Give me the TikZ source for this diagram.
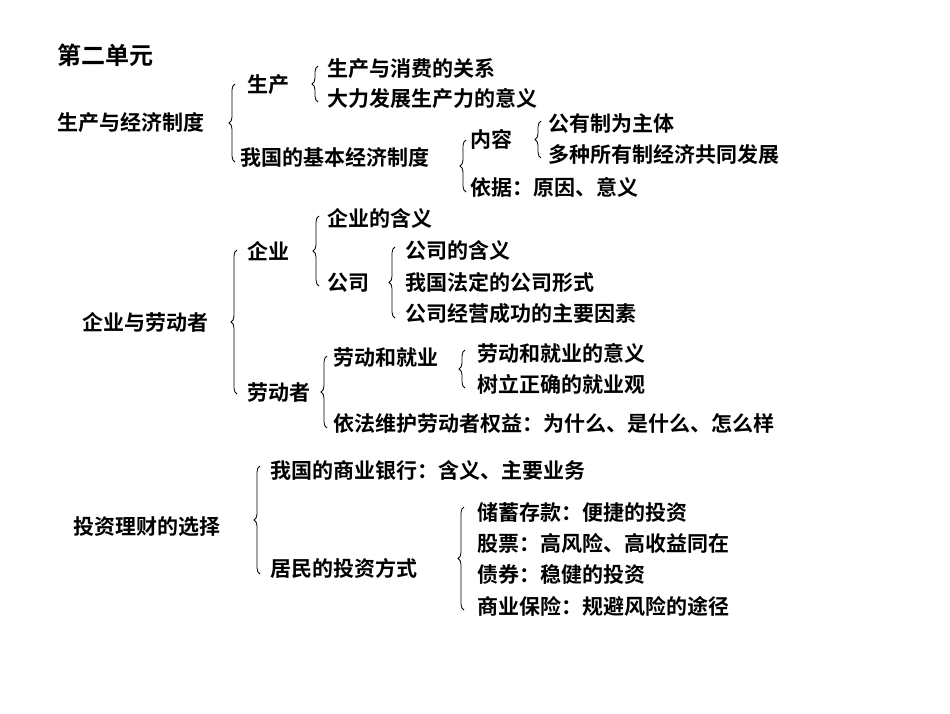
\documentclass[tikz,border=0pt]{standalone}
\usepackage{fontspec}
\setmainfont{Noto Sans CJK SC Bold}
\usetikzlibrary{decorations.pathreplacing}
\begin{document}
\begin{tikzpicture}[x=1pt,y=-1pt,
 t/.style={anchor=west,inner sep=0pt,font=\fontsize{21}{21}\selectfont},
 br/.style={decorate,decoration={brace,amplitude=6pt},line width=0.8pt}]
\useasboundingbox (0,0) rectangle (950,713);
\node[t,font=\fontsize{24}{24}\selectfont] (title) at (57,55) {第二单元};
\node[t] (a) at (57,123) {生产与经济制度};
\node[t] (a1) at (247,85) {生产};
\node[t] (a11) at (327,69) {生产与消费的关系};
\node[t] (a12) at (327,99) {大力发展生产力的意义};
\node[t] (a2) at (240,157) {我国的基本经济制度};
\node[t] (a21) at (470,139) {内容};
\node[t] (a211) at (548,124) {公有制为主体};
\node[t] (a212) at (548,155) {多种所有制经济共同发展};
\node[t] (a22) at (470,187) {依据：原因、意义};
\draw[br] (235,162)--(235,84);
\draw[br] (318,102)--(318,66);
\draw[br] (466,192)--(466,140);
\draw[br] (541,158)--(541,121);

\node[t] (b) at (82,322) {企业与劳动者};
\node[t] (b1) at (247,251) {企业};
\node[t] (b11) at (327,218) {企业的含义};
\node[t] (b12) at (327,283) {公司};
\node[t] (b121) at (405,250) {公司的含义};
\node[t] (b122) at (405,282) {我国法定的公司形式};
\node[t] (b123) at (405,314) {公司经营成功的主要因素};
\node[t] (b2) at (247,393) {劳动者};
\node[t] (b21) at (333,358) {劳动和就业};
\node[t] (b211) at (477,353) {劳动和就业的意义};
\node[t] (b212) at (477,384) {树立正确的就业观};
\node[t] (b22) at (333,424) {依法维护劳动者权益：为什么、是什么、怎么样};
\draw[br] (237,394)--(237,250);
\draw[br] (319,286)--(319,216);
\draw[br] (395,318)--(395,247);
\draw[br] (327,428)--(327,356);
\draw[br] (465,388)--(465,350);

\node[t] (c) at (73,527) {投资理财的选择};
\node[t] (c1) at (270,470) {我国的商业银行：含义、主要业务};
\node[t] (c2) at (270,568) {居民的投资方式};
\node[t] (c21) at (477,512) {储蓄存款：便捷的投资};
\node[t] (c22) at (477,543) {股票：高风险、高收益同在};
\node[t] (c23) at (477,574) {债券：稳健的投资};
\node[t] (c24) at (477,606) {商业保险：规避风险的途径};
\draw[br] (260,574)--(260,466);
\draw[br] (464,610)--(464,507);
\end{tikzpicture}
\end{document}
